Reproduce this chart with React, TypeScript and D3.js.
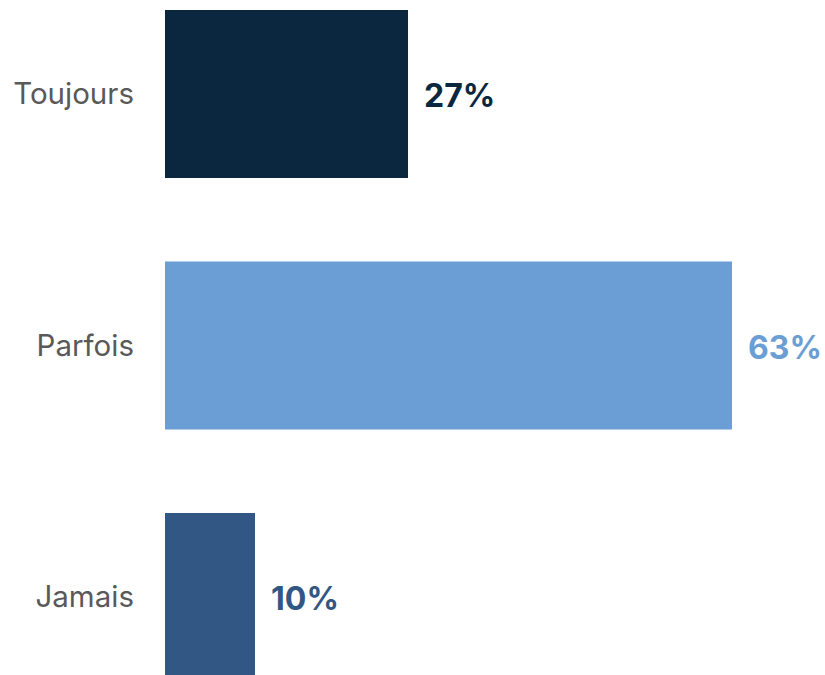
import React from 'react';
import * as d3 from 'd3';

const categories = ['Toujours', 'Parfois', 'Jamais'];
const values = [27, 63, 10];
const colors = ['#0b2740', '#6b9ed4', '#325784'];

const width = 825;
const height = 681;

const App: React.FC = () => {
  const x = d3.scaleLinear().domain([0, 100]).range([165, 1065]);
  const y = d3.scaleBand<string>().domain(categories).range([10, 681]).paddingInner(0.332).paddingOuter(0);

  return (
    <svg
      width={width}
      height={height}
      style={{ position: 'absolute', left: 0, top: 0, display: 'block' }}
    >
      <rect width={width} height={height} fill="#ffffff" />
      {categories.map((c, i) => {
        const y0 = y(c)!;
        const mid = y0 + y.bandwidth() / 2;
        return (
          <g key={c}>
            <rect x={x(0)} y={y0} width={x(values[i]) - x(0)} height={y.bandwidth()} fill={colors[i]} />
            <text
              x={134}
              y={mid}
              dy="0.35em"
              textAnchor="end"
              fontFamily="Inter, 'Liberation Sans', sans-serif"
              fontSize={29.5}
              fill="#595959"
            >
              {c}
            </text>
            <text
              x={x(values[i]) + 16}
              y={mid + 2}
              dy="0.35em"
              fontFamily="Inter, 'Liberation Sans', sans-serif"
              fontWeight="bold"
              fontSize={32}
              fill={colors[i]}
            >
              {values[i]}%
            </text>
          </g>
        );
      })}
    </svg>
  );
};

export default App;
